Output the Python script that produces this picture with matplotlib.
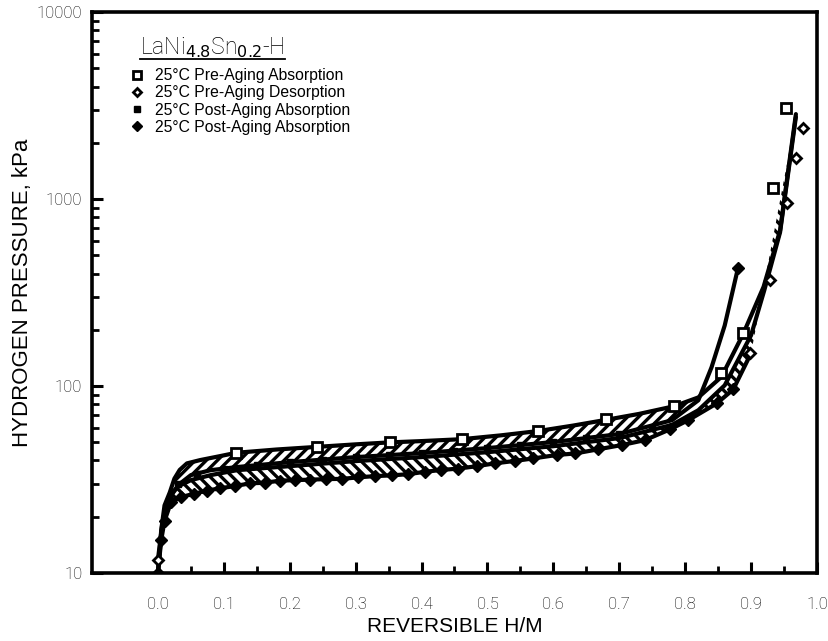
import matplotlib
matplotlib.use("Agg")
import matplotlib.pyplot as plt
from matplotlib.lines import Line2D
import numpy as np

# ---------------- data ----------------
# Curve A : pre-aging absorption (top edge of upper band)
a_hm = [0.0, 0.005, 0.01, 0.018, 0.025, 0.033, 0.044, 0.064, 0.094, 0.119, 0.18, 0.241,
        0.30, 0.352, 0.40, 0.461, 0.52, 0.577, 0.63, 0.680, 0.73, 0.783, 0.82, 0.855,
        0.888, 0.919, 0.944, 0.968]
a_p = [10, 17, 23, 27, 32, 35.6, 38.6, 40.2, 42.2, 44.0, 45.8, 47.3,
       48.8, 50.0, 50.8, 52.0, 54.5, 57.5, 61.5, 66.0, 71.0, 78.0, 87, 112,
       190, 340, 680, 2850]

# Curve B : post-aging absorption (lower edge of upper band, rises early)
b_hm = [0.0, 0.005, 0.01, 0.02, 0.033, 0.05, 0.08, 0.12, 0.2, 0.3, 0.4, 0.5, 0.6,
        0.7, 0.78, 0.82, 0.84, 0.86, 0.873, 0.88]
b_p = [10, 16, 21, 26, 30, 33.4, 35.5, 36.9, 39.2, 41.7, 43.8, 46.6, 50.2,
       55.4, 65.7, 84, 126, 211, 333, 426]

# Curve C : pre-aging desorption (upper edge of lower band)
c_hm = [0.0, 0.007, 0.018, 0.03, 0.05, 0.08, 0.12, 0.2, 0.3, 0.4, 0.5, 0.6, 0.7,
        0.78, 0.82, 0.86, 0.9, 0.92, 0.944, 0.968]
c_p = [11.8, 18.8, 26, 29, 31.4, 33.4, 35.5, 37.3, 39.7, 41.7, 44.3, 47.7, 52.7,
       62, 74.3, 101, 187, 325, 665, 2750]

# Curve D : post-aging desorption (lower edge of lower band)
d_hm = [0.0, 0.005, 0.01, 0.02, 0.035, 0.054, 0.075, 0.094, 0.117, 0.14, 0.162, 0.185,
        0.208, 0.231, 0.255, 0.279, 0.304, 0.329, 0.355, 0.38, 0.405, 0.43, 0.456,
        0.484, 0.511, 0.542, 0.569, 0.605, 0.633, 0.668, 0.704, 0.739, 0.777, 0.805,
        0.848, 0.873, 0.9]
d_p = [10, 15, 19, 24, 25.5, 26.5, 27.6, 28.4, 29.2, 30.2, 30.4, 31.2,
       31.4, 31.6, 31.8, 31.9, 32.5, 33.0, 33.3, 33.8, 34.8, 35.6, 36.2,
       37.3, 38.6, 39.8, 41.0, 42.8, 43.6, 45.9, 48.4, 51.4, 58.7, 65.8,
       80.8, 96, 150]

# Markers
pre_abs_hm = [0.119, 0.241, 0.352, 0.461, 0.577, 0.680, 0.783, 0.855, 0.888, 0.933, 0.953]
pre_abs_p = [44.0, 47.3, 50.4, 51.9, 57.7, 66.4, 78.2, 117.8, 193, 1140, 3055]

pre_des_hm = [0.0, 0.898, 0.929, 0.954, 0.968, 0.979]
pre_des_p = [11.8, 150, 369, 955, 1651, 2388]

post_abs_hm = [0.03, 0.06, 0.1, 0.15, 0.2, 0.25, 0.3, 0.35, 0.4, 0.45, 0.5, 0.55, 0.6, 0.65, 0.7, 0.75]
post_abs_p = [30, 34, 36.2, 37.8, 39.2, 40.4, 41.7, 42.7, 43.8, 45.2, 46.6, 48.2, 50.2, 52.6, 55.4, 59.5]

post_des_hm = d_hm[:-1] + [0.88]
post_des_p = d_p[:-1] + [426]

xticks = [0.0, 0.1, 0.2, 0.3, 0.4, 0.5, 0.6, 0.7, 0.8, 0.9, 1.0]
xticklabels = ["0.0", "0.1", "0.2", "0.3", "0.4", "0.5", "0.6", "0.7", "0.8", "0.9", "1.0"]
yticks = [10, 100, 1000, 10000]
yticklabels = ["10", "100", "1000", "10000"]

legend_labels = ["25°C Pre-Aging Absorption", "25°C Pre-Aging Desorption",
                 "25°C Post-Aging Absorption", "25°C Post-Aging Absorption"]

# ---------------- figure ----------------
plt.rcParams['font.family'] = ['Liberation Sans', 'DejaVu Sans']
plt.rcParams['hatch.linewidth'] = 2.4

fig = plt.figure(figsize=(8.29, 6.41), dpi=100)
ax = fig.add_axes([0.111, 0.106, 0.8745, 0.875])
ax.set_yscale('log')
ax.set_xlim(-0.1, 1.0)
ax.set_ylim(10, 10000)

# hatched bands (upper band closes where the absorption curves meet)
a_arr, ap_arr = np.array(a_hm), np.array(a_p)
b_arr, bp_arr = np.array(b_hm), np.array(b_p)
ma = a_arr <= 0.82
mb = b_arr <= 0.82
ax.fill(np.concatenate([a_arr[ma], b_arr[mb][::-1]]), np.concatenate([ap_arr[ma], bp_arr[mb][::-1]]),
        facecolor='white', edgecolor='black', hatch='///', lw=0, zorder=1)
ax.fill(np.concatenate([c_hm, d_hm[::-1]]), np.concatenate([c_p, d_p[::-1]]),
        facecolor='white', edgecolor='black', hatch='\\\\\\', lw=0, zorder=1)

for hx, hp in [(a_hm, a_p), (b_hm, b_p), (c_hm, c_p), (d_hm, d_p)]:
    ax.plot(hx, hp, color='black', lw=3.0, solid_capstyle='round', solid_joinstyle='round', zorder=2)

h1, = ax.plot(pre_abs_hm, pre_abs_p, ls='none', marker='s', ms=6.5, mfc='white', mec='black', mew=2, zorder=4)
h2, = ax.plot(pre_des_hm, pre_des_p, ls='none', marker='D', ms=5.5, mfc='white', mec='black', mew=2, zorder=4)
h3, = ax.plot(post_abs_hm, post_abs_p, ls='none', marker='s', ms=5, mfc='black', mec='black', zorder=3)
h4, = ax.plot(post_des_hm, post_des_p, ls='none', marker='D', ms=6.5, mfc='black', mec='black', zorder=3)

# axes styling
for s in ax.spines.values():
    s.set_linewidth(2.6)
ax.set_xticks(xticks)
ax.set_xticklabels(xticklabels)
ax.set_xticks(np.arange(0.05, 1.0, 0.1), minor=True)
ax.set_yticks(yticks)
ax.set_yticklabels(yticklabels)
ax.yaxis.set_minor_locator(matplotlib.ticker.LogLocator(base=10, subs=np.arange(2, 10)))
ax.yaxis.set_minor_formatter(matplotlib.ticker.NullFormatter())
ax.tick_params(axis='both', which='major', direction='in', length=8, width=2.2)
ax.tick_params(axis='both', which='minor', direction='in', length=5, width=2)
ax.tick_params(axis='x', which='major', pad=17)
ax.tick_params(axis='y', which='major', pad=7)
for lab in ax.get_xticklabels() + ax.get_yticklabels():
    lab.set_fontfamily(['Roboto', 'DejaVu Sans'])
    lab.set_fontweight('light')
    lab.set_fontsize(12)

ax.set_xlabel("REVERSIBLE H/M", fontsize=15, labelpad=4)
ax.set_ylabel("HYDROGEN PRESSURE, kPa", fontsize=16, labelpad=3)

# legend title with underline
title = ax.text(0.066, 0.925, r"LaNi$_{4.8}$Sn$_{0.2}$-H", transform=ax.transAxes,
                fontsize=16.5, fontfamily=['Roboto', 'DejaVu Sans'], fontweight='light',
                va='baseline', ha='left')
fig.canvas.draw()
bb = title.get_window_extent()
inv = fig.transFigure.inverted()
(x0, y0), (x1, y1) = inv.transform([(bb.x0, bb.y0 + 1), (bb.x1, bb.y0 + 1)])
fig.add_artist(Line2D([x0, x1], [y0, y1], color='black', lw=1.3, transform=fig.transFigure))

ax.legend([h1, h2, h3, h4], legend_labels, loc='upper left', bbox_to_anchor=(0.056, 0.9),
          frameon=False, fontsize=11.3, handlelength=0.6, handletextpad=0.8,
          labelspacing=0.14, borderaxespad=0, borderpad=0, markerscale=0.8)

fig.savefig("out.png", dpi=100)
